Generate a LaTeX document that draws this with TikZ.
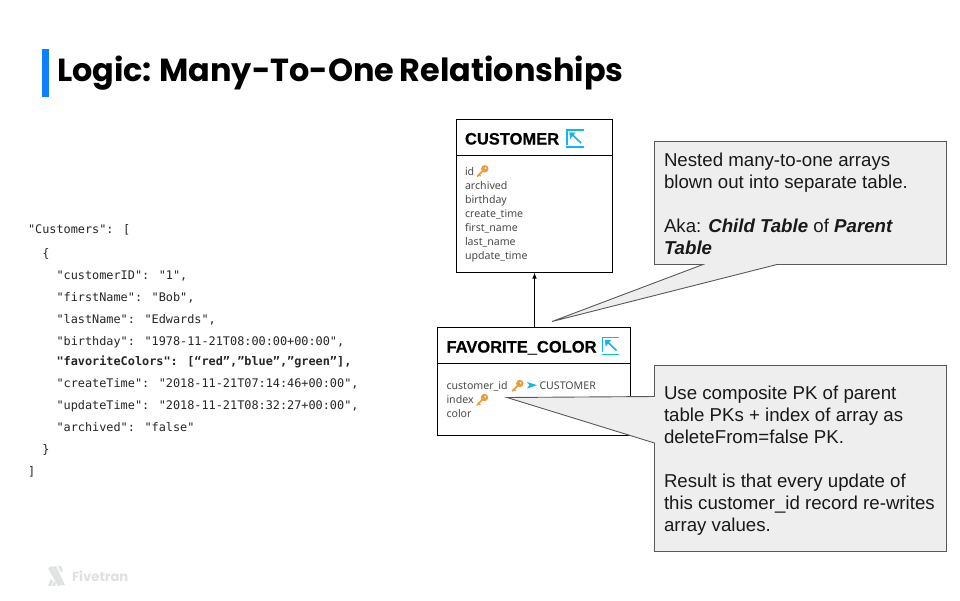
\documentclass[tikz,border=0pt]{standalone}
\usepackage{fontspec}
\usetikzlibrary{arrows.meta}
\setmainfont{Liberation Sans}
\newfontfamily\titlefont{Poppins}
\newfontfamily\codefont{DejaVu Sans Mono}
\newfontfamily\tabfont{Noto Sans}
\newfontfamily\headfont[FakeBold=0.5]{Liberation Sans Bold}
\definecolor{keyor}{HTML}{EE9B3A}
\definecolor{fiveblue}{HTML}{11B5F0}
\definecolor{barblue}{HTML}{0D7FFF}
\definecolor{boxfill}{HTML}{EEEEEE}
\definecolor{boxline}{HTML}{595959}
\definecolor{tabtext}{HTML}{4A4A4A}
\definecolor{logogray}{HTML}{DFE1E2}
\tikzset{
  x=1pt,y=-1pt,
  every node/.style={inner sep=0pt,outer sep=0pt},
  tablebox/.style={draw=black,line width=1pt,fill=white},
  tablerule/.style={draw=black,line width=1pt},
  tablehead/.style={anchor=base west,font=\headfont\fontsize{16.5}{18}\selectfont,text=black},
  field/.style={anchor=base west,font=\tabfont\fontsize{10.6}{10.6}\selectfont,text=tabtext},
  codeline/.style={anchor=base west,font=\codefont\fontsize{11.85}{12}\selectfont,text=black!85},
  callout/.style={draw=boxline,line width=0.9pt,fill=boxfill,line join=miter},
  callouttext/.style={anchor=base west,font=\fontsize{18.67}{18.67}\selectfont,text=black!90},
  keyicon/.pic={
    \draw[keyor,line width=1.7pt,line cap=round] (-4.4,4.4) -- (1.4,-1.4);
    \draw[keyor,line width=1.4pt,line cap=round] (-2.8,2.8) -- (-1.4,4.2);
    \fill[keyor,even odd rule] (3,-3) circle (3.7) (3.7,-3.7) circle (1.2);
  },
  linkicon/.pic={
    \draw[fiveblue,line width=1.5pt] (0,17.5) -- (17.5,17.5);
    \draw[fiveblue,line width=1.5pt] (17.5,0.7) -- (1,0.7) -- (1,15);
    \draw[fiveblue,line width=1.6pt] (15,13.5) -- (5,4);
    \fill[fiveblue] (3.4,2.8) -- (9.6,3.2) -- (4,9.6) -- cycle;
  },
  fkicon/.pic={
    \fill[fiveblue] (0,0) -- (10,3.2) -- (0,6.6) -- (2.4,3.2) -- cycle;
  },
}
\begin{document}
\begin{tikzpicture}
\useasboundingbox (0,0) rectangle (960,600);
\fill[white] (0,0) rectangle (960,600);
% title
\fill[barblue] (41.5,48.5) rectangle (48.5,96.5);
\node[anchor=base west,font=\titlefont\fontsize{31.9}{32}\selectfont\bfseries,text=black] (title) at (57,81) {\spaceskip 5.3pt Logic: Many-To-One Relationships};
% code
\node[codeline] (c1) at (28,233) {"Customers": [};
\node[codeline] (c2) at (28,257) {\ \ \{};
\node[codeline] (c3) at (28,279) {\ \ \ \ "customerID": "1",};
\node[codeline] (c4) at (28,301) {\ \ \ \ "firstName": "Bob",};
\node[codeline] (c5) at (28,323) {\ \ \ \ "lastName": "Edwards",};
\node[codeline] (c6) at (28,345) {\ \ \ \ "birthday": "1978-11-21T08:00:00+00:00",};
\node[codeline] (c7) at (28,365) {\ \ \ \ \textbf{"favoriteColors": [“red”,”blue”,”green”],}};
\node[codeline] (c8) at (28,387) {\ \ \ \ "createTime": "2018-11-21T07:14:46+00:00",};
\node[codeline] (c9) at (28,409) {\ \ \ \ "updateTime": "2018-11-21T08:32:27+00:00",};
\node[codeline] (c10) at (28,431) {\ \ \ \ "archived": "false"};
\node[codeline] (c11) at (28,453) {\ \ \}};
\node[codeline] (c12) at (28,475) {]};
% customer table
\node[tablebox,anchor=north west,minimum width=156pt,minimum height=153pt] (cust) at (456.5,119.5) {};
\draw[tablerule] (456.5,155.5) -- (612.5,155.5);
\node[tablehead] (custh) at (465,144.5) {CUSTOMER};
\pic at (566,129.5) {linkicon};
\node[field] (f1) at (465,175) {id};
\pic at (481.8,171.8) {keyicon};
\node[field] (f2) at (465,189) {archived};
\node[field] (f3) at (465,203) {birthday};
\node[field] (f4) at (465,217) {create\_time};
\node[field] (f5) at (465,231) {first\_name};
\node[field] (f6) at (465,245) {last\_name};
\node[field] (f7) at (465,259) {update\_time};
% favorite table
\node[tablebox,anchor=north west,minimum width=193pt,minimum height=108pt] (fav) at (437.5,327.5) {};
\draw[tablerule] (437.5,363.5) -- (630.5,363.5);
\node[tablehead] (favh) at (446.5,352.5) {FAVORITE\_COLOR};
\pic at (601.5,337) {linkicon};
\node[field] (g1) at (446.5,389) {customer\_id};
\pic at (516.8,386.5) {keyicon};
\pic at (527,382) {fkicon};
\node[field] (g1b) at (539.5,389) {CUSTOMER};
\node[field] (g2) at (446.5,403) {index};
\pic at (481.5,400.5) {keyicon};
\node[field] (g3) at (446.5,417) {color};
% connector
\draw[line width=1pt,-{Latex[length=6pt,width=4.5pt]}] ([xshift=0.5pt]fav.north) -- ([xshift=0.5pt]fav.north |- cust.south);
% callout 1
\coordinate (tip1) at (552,321.5);
\draw[callout] (654.5,141.5) -- (946.5,141.5) -- (946.5,264.5) -- (777,264.5) -- (tip1) -- (703,264.5) -- (654.5,264.5) -- cycle;
\node[callouttext] (t1) at (664,166) {Nested many-to-one arrays};
\node[callouttext] (t2) at (664,188) {blown out into separate table.};
\node[callouttext] (t3) at (664,232) {Aka: \textbf{\textit{Child Table}} of \textbf{\textit{Parent}}};
\node[callouttext] (t4) at (664,254) {\textbf{\textit{Table}}};
% callout 2
\coordinate (tip2) at (507,397.5);
\draw[callout] (654.5,365.5) -- (946.5,365.5) -- (946.5,551.5) -- (654.5,551.5) -- (654.5,443) -- (tip2) -- (654.5,396.5) -- cycle;
\node[callouttext] (u1) at (664,399) {Use composite PK of parent};
\node[callouttext] (u2) at (664,421) {table PKs + index of array as};
\node[callouttext] (u3) at (664,443) {deleteFrom=false PK.};
\node[callouttext] (u4) at (664,487) {Result is that every update of};
\node[callouttext] (u5) at (664,509) {this customer\_id record re-writes};
\node[callouttext] (u6) at (664,531) {array values.};
% logo
\fill[logogray] (48,568) -- (52,566) -- (62,585) -- (58,586) -- cycle;
\fill[logogray] (53,567) -- (56,566) -- (65,585) -- (62,585) -- cycle;
\fill[logogray] (58,566) -- (61,566) -- (63,571) -- (61,572) -- cycle;
\fill[logogray] (48,586) -- (51,586) -- (53,581) -- (51,579) -- cycle;
\fill[logogray] (52,586) -- (55,586) -- (56,583) -- (54,581) -- cycle;
\node[anchor=base west,font=\titlefont\fontsize{13.2}{13.2}\selectfont\bfseries,text=logogray] (logo) at (72,581) {Fivetran};
\end{tikzpicture}
\end{document}
